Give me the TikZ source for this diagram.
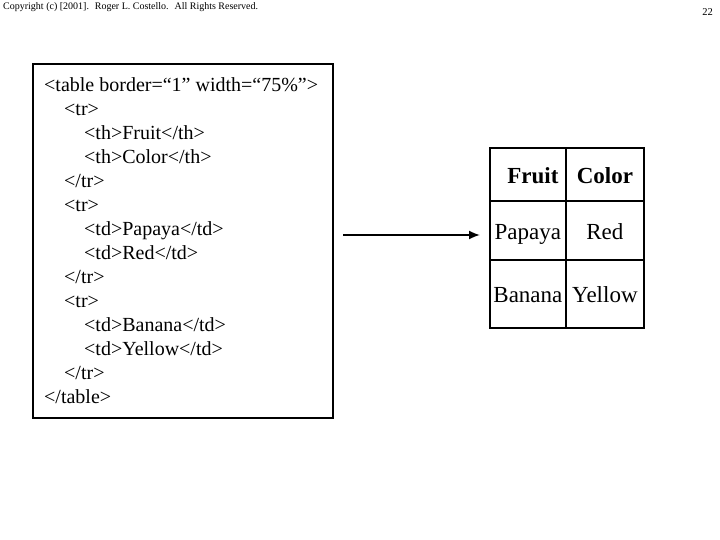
\documentclass[tikz,border=0pt]{standalone}
\usepackage{fontspec}
\setmainfont{Liberation Serif}
\usetikzlibrary{arrows.meta}

\begin{document}
\begin{tikzpicture}[x=1pt, y=-1pt,
    codebox/.style={draw, line width=2pt, rectangle, anchor=north west, inner sep=0pt},
    codelines/.style={anchor=north west, inner sep=0pt, align=left, font=\fontsize{20}{24}\selectfont},
    cell/.style={draw, line width=1.8pt, rectangle, anchor=north west, inner sep=0pt,
      text height=18pt, text depth=0pt, font=\fontsize{23}{27}\selectfont},
    headcell/.style={cell, font=\fontsize{23}{27}\selectfont\bfseries},
    arrowline/.style={line width=1.8pt, -{Latex[length=11pt,width=9pt]}}]
  \useasboundingbox (0,0) rectangle (720,540);
  % page header
  \node[anchor=base west, inner sep=0pt, font=\fontsize{10}{12}\selectfont] (copyright) at (3,10) {Copyright (c) [2001]. \ Roger L. Costello. \ All Rights Reserved.};
  \node[anchor=base east, inner sep=0pt, font=\fontsize{10.5}{12}\selectfont] (pagenum) at (713,16) {22};
  % the html source
  \node[codebox, minimum width=300pt, minimum height=354pt] (code) at (32,63) {};
  \node[codelines] (source) at (44,77) {%
    <table border=“1” width=“75\%”>\\
    \hspace*{20pt}<tr>\\
    \hspace*{40pt}<th>Fruit</th>\\
    \hspace*{40pt}<th>Color</th>\\
    \hspace*{20pt}</tr>\\
    \hspace*{20pt}<tr>\\
    \hspace*{40pt}<td>Papaya</td>\\
    \hspace*{40pt}<td>Red</td>\\
    \hspace*{20pt}</tr>\\
    \hspace*{20pt}<tr>\\
    \hspace*{40pt}<td>Banana</td>\\
    \hspace*{40pt}<td>Yellow</td>\\
    \hspace*{20pt}</tr>\\
    </table>};
  % the rendered table
  \node[headcell, minimum width=76pt, minimum height=53pt] (fruit) at (489,147) {\hspace*{10pt}Fruit};
  \node[headcell, minimum width=78pt, minimum height=53pt] (color) at (565,147) {Color};
  \node[cell, minimum width=76pt, minimum height=59pt] (papaya) at (489,200) {Papaya};
  \node[cell, minimum width=78pt, minimum height=59pt] (red) at (565,200) {Red};
  \node[cell, minimum width=76pt, minimum height=68pt] (banana) at (489,259) {Banana};
  \node[cell, minimum width=78pt, minimum height=68pt] (yellow) at (565,259) {Yellow};
  % arrow
  \coordinate (arrowstart) at (343,235);
  \draw[arrowline, shorten >=9pt] (arrowstart) -- (arrowstart -| papaya.west);
\end{tikzpicture}
\end{document}
